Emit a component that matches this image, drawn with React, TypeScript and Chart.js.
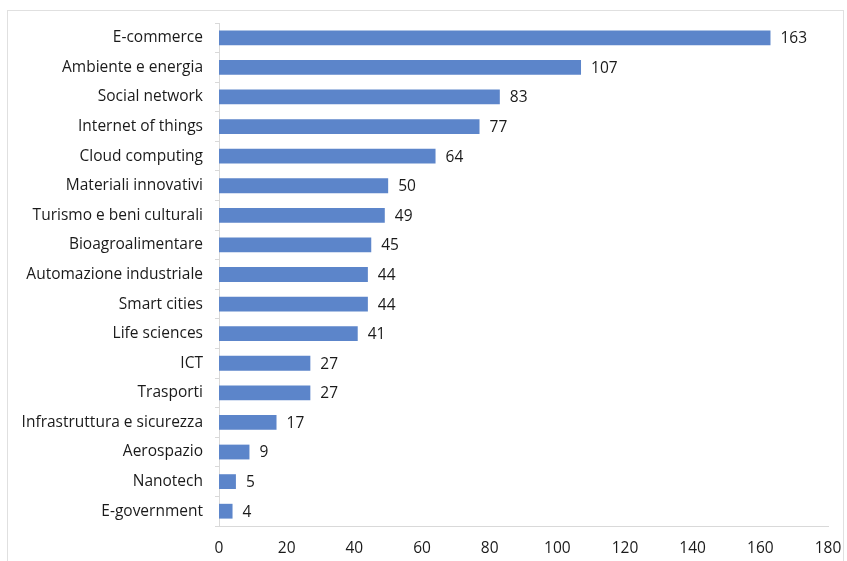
import React, { useEffect, useRef } from "react";
import { Chart, registerables } from "chart.js";

Chart.register(...registerables);

const categories = [
  "E-commerce",
  "Ambiente e energia",
  "Social network",
  "Internet of things",
  "Cloud computing",
  "Materiali innovativi",
  "Turismo e beni culturali",
  "Bioagroalimentare",
  "Automazione industriale",
  "Smart cities",
  "Life sciences",
  "ICT",
  "Trasporti",
  "Infrastruttura e sicurezza",
  "Aerospazio",
  "Nanotech",
  "E-government",
];
const values = [163, 107, 83, 77, 64, 50, 49, 45, 44, 44, 41, 27, 27, 17, 9, 5, 4];
const xMin = 0;
const xMax = 180;
const xStep = 20;

const FONT = "'Open Sans', 'Liberation Sans', sans-serif";
const FSIZE = 15.5;

const valueLabels = {
  id: "valueLabels",
  afterDatasetsDraw(chart: any) {
    const ctx = chart.ctx;
    const meta = chart.getDatasetMeta(0);
    ctx.save();
    ctx.font = `${FSIZE}px ${FONT}`;
    ctx.fillStyle = "#1a1a1a";
    ctx.textAlign = "left";
    ctx.textBaseline = "middle";
    meta.data.forEach((bar: any, i: number) => {
      ctx.fillText(String(chart.data.datasets[0].data[i]), bar.x + 10, bar.y + 1);
    });
    ctx.restore();
  },
};

export default function App() {
  const ref = useRef<HTMLCanvasElement | null>(null);
  useEffect(() => {
    if (!ref.current) return;
    const chart = new Chart(ref.current, {
      type: "bar",
      data: {
        labels: categories,
        datasets: [
          {
            data: values,
            backgroundColor: "#5c85ca",
            borderWidth: 0,
            categoryPercentage: 1,
            barPercentage: 0.5,
          },
        ],
      },
      options: {
        indexAxis: "y",
        animation: false,
        responsive: false,
        maintainAspectRatio: false,
        layout: { padding: { left: 0, right: 19, top: 23, bottom: 0 } },
        plugins: { legend: { display: false }, tooltip: { enabled: false } },
        scales: {
          x: {
            min: xMin,
            max: xMax,
            ticks: {
              stepSize: xStep,
              color: "#1a1a1a",
              font: { family: FONT, size: FSIZE },
              padding: 13,
              maxRotation: 0,
            },
            grid: { display: false, drawTicks: false },
            border: { display: true, color: "#d9d9d9", width: 1 },
            afterFit(scale: any) {
              scale.height = 35;
              scale.paddingLeft = 0;
              scale.paddingRight = 0;
            },
          },
          y: {
            ticks: {
              color: "#1a1a1a",
              font: { family: FONT, size: FSIZE },
              padding: 12,
            },
            grid: {
              offset: true,
              drawOnChartArea: false,
              tickLength: 4,
              color: "#d9d9d9",
            },
            border: { display: true, color: "#d9d9d9", width: 1 },
            afterFit(scale: any) {
              scale.width = 219;
              scale.paddingTop = 0;
              scale.paddingBottom = 0;
            },
          },
        },
      },
      plugins: [valueLabels],
    });
    return () => chart.destroy();
  }, []);
  return (
    <div style={{ position: "fixed", left: 0, top: 0, width: 847, height: 561, background: "#fff" }}>
      <div
        style={{
          position: "absolute",
          left: 7,
          top: 10,
          width: 837,
          height: 560,
          border: "1px solid #e0e0e0",
          boxSizing: "border-box",
        }}
      />
      <canvas ref={ref} width={847} height={561} style={{ position: "absolute", left: 0, top: 0 }} />
    </div>
  );
}
